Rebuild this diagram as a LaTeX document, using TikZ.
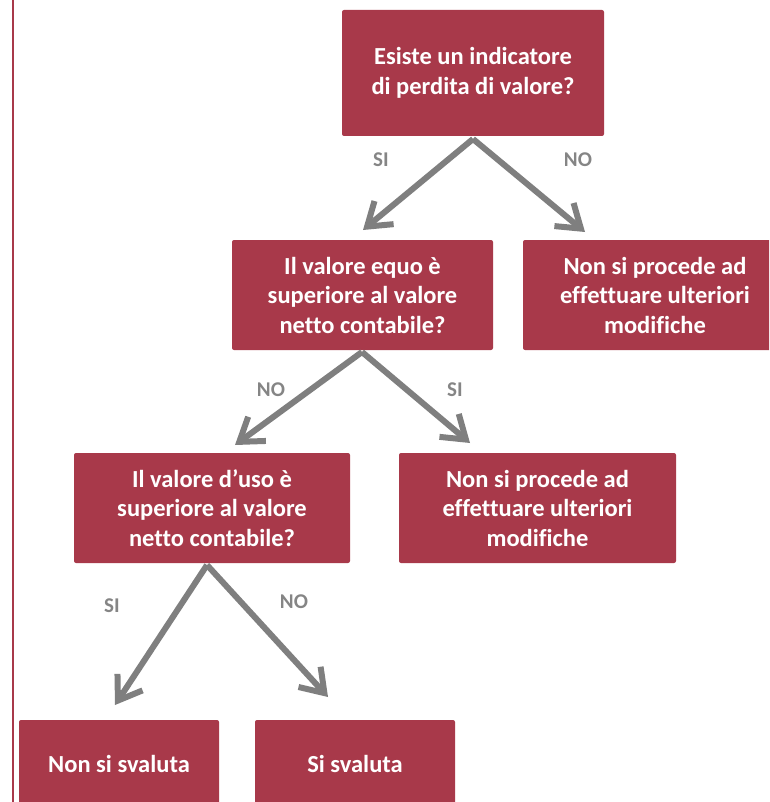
\documentclass[tikz,border=0pt]{standalone}
\usepackage{fontspec}
\setmainfont[Ligatures=CommonOff]{Carlito}
\usetikzlibrary{arrows.meta}
\definecolor{boxred}{HTML}{A8394A}
\definecolor{arrgray}{HTML}{7F7F7F}
\definecolor{labgray}{HTML}{858585}
\begin{document}
\begin{tikzpicture}[x=1pt,y=-1pt,
  box/.style={fill=boxred, rounded corners=2pt, text=white, font=\bfseries\fontsize{24.5}{29.5}\selectfont, align=center, inner sep=0pt},
  arr/.style={draw=arrgray, line width=6pt, -{Straight Barb[length=22pt,width=30pt]}},
  lab/.style={text=labgray, font=\bfseries\fontsize{21}{24}\selectfont}]
\clip (0,0) rectangle (769,802);
\draw[boxred, line width=2pt] (13,0) -- (13,802);
% boxes
\node[box, minimum width=262pt, minimum height=126pt] (q1) at (473,73) {Esiste un indicatore\\di perdita di valore?};
\node[box, minimum width=261pt, minimum height=110pt] (q2) at (362.5,295) {Il valore equo è\\superiore al valore\\netto contabile?};
\node[box, minimum width=264pt, minimum height=110pt] (r1) at (655,295) {Non si procede ad\\effettuare ulteriori\\modifiche};
\node[box, minimum width=276pt, minimum height=110pt] (q3) at (212,508) {Il valore d’uso è\\superiore al valore\\netto contabile?};
\node[box, minimum width=277pt, minimum height=110pt] (r2) at (537.5,508) {Non si procede ad\\effettuare ulteriori\\modifiche};
\node[box, minimum width=200pt, minimum height=88pt] (r3) at (119,764) {Non si svaluta};
\node[box, minimum width=200pt, minimum height=88pt] (r4) at (355,764) {Si svaluta};
% arrow ends
\coordinate (s1) at (473,139);
\coordinate (t1) at (363,230);
\coordinate (t2) at (585,232);
\coordinate (s2) at (362,352);
\coordinate (t3) at (235,445);
\coordinate (t4) at (470,443);
\coordinate (s3) at (207,565);
\coordinate (t5) at (115,705);
\coordinate (t6) at (328,697);
\draw[arr] (s1) -- (t1);
\draw[arr] (s1) -- (t2);
\draw[arr] (s2) -- (t3);
\draw[arr] (s2) -- (t4);
\draw[arr] (s3) -- (t5);
\draw[arr] (s3) -- (t6);
% labels
\node[lab] (l1) at (381,160) {SI};
\node[lab] (l2) at (578,160) {NO};
\node[lab] (l3) at (271,390) {NO};
\node[lab] (l4) at (455,390) {SI};
\node[lab] (l5) at (112,606) {SI};
\node[lab] (l6) at (294,602) {NO};
\end{tikzpicture}
\end{document}
